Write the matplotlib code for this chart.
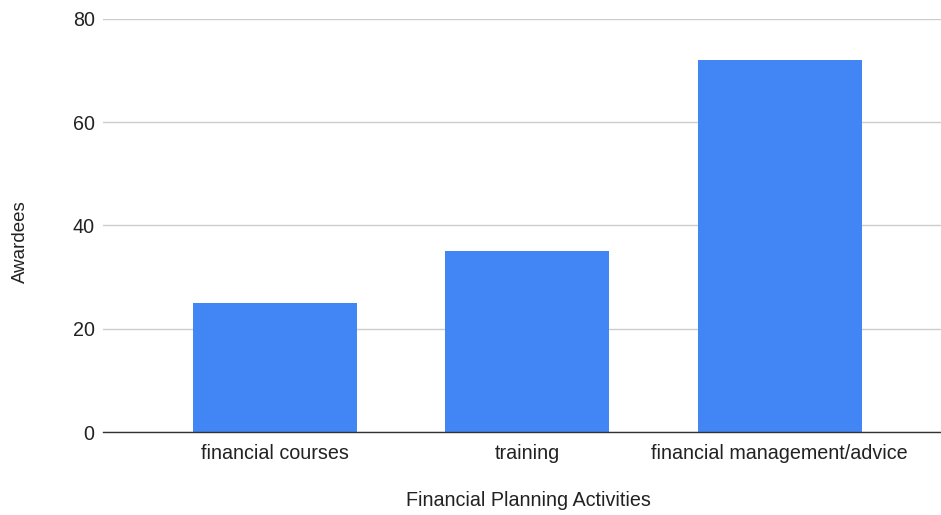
import matplotlib.pyplot as plt
import numpy as np

plt.rcParams["font.family"] = ["Liberation Sans", "DejaVu Sans"]

categories = ["financial courses", "training", "financial management/advice"]
awardees = [25, 35, 72]
y_ticks = [0, 20, 40, 60, 80]

fig = plt.figure(figsize=(9.41, 5.15), dpi=100)
ax = fig.add_axes([103 / 941, 83 / 515, 838 / 941, 413 / 515])

x = np.arange(len(categories))
ax.bar(x, awardees, width=0.65, color="#4285F4", zorder=3)

ax.set_ylim(0, 80)
ax.set_xlim(-0.683, 2.64)
ax.set_yticks(y_ticks)
ax.set_xticks(x)
ax.set_xticklabels(categories)
ax.tick_params(axis="both", length=0, labelsize=14.2, colors="#222222")
ax.tick_params(axis="x", pad=8.5)
ax.tick_params(axis="y", pad=6)
ax.grid(axis="y", color="#cccccc", linewidth=1, zorder=0)

for side in ["top", "right", "left"]:
    ax.spines[side].set_visible(False)
ax.spines["bottom"].set_color("#333333")
ax.spines["bottom"].set_linewidth(1)
ax.spines["bottom"].set_zorder(4)

fig.text(528 / 941, 1 - 500 / 515, "Financial Planning Activities", ha="center", va="center", fontsize=14.2, color="#222222")
fig.text(20 / 941, 1 - 242 / 515, "Awardees", ha="center", va="center", rotation=90, fontsize=13.5, color="#222222")

fig.savefig("out.png", dpi=100)
